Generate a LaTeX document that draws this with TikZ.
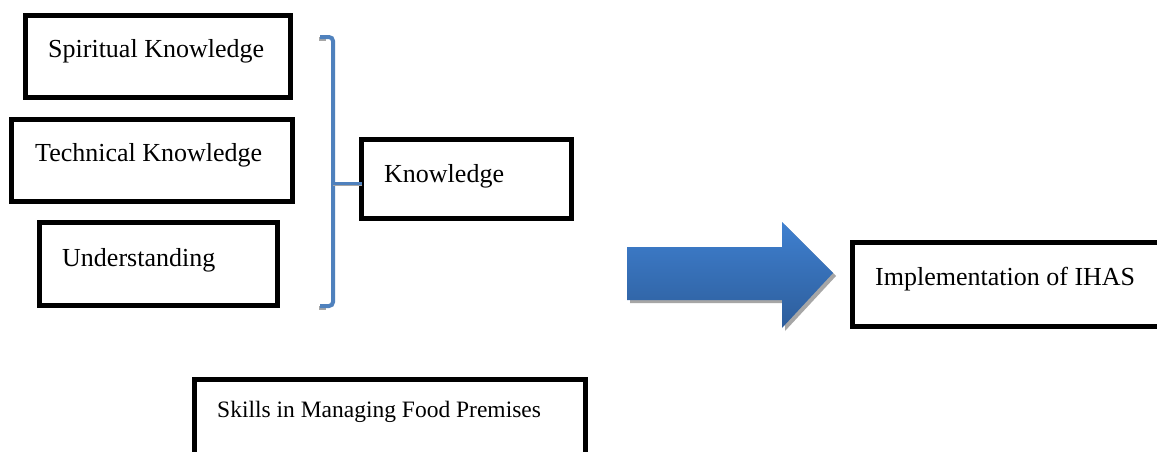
\documentclass[tikz,border=0pt]{standalone}
\usepackage{fontspec}
\setmainfont{Liberation Serif}
\usetikzlibrary{calc}
\definecolor{brk}{HTML}{4F81BD}
\definecolor{arTop}{HTML}{3F80D0}
\definecolor{arBot}{HTML}{2D5D9B}
\definecolor{shd}{HTML}{A6A6A6}
\tikzset{
  box/.style={draw=black, line width=5pt, fill=white},
  lbl/.style={anchor=base west, inner sep=0pt, font=\fontsize{26}{30}\selectfont},
  lblsm/.style={anchor=base west, inner sep=0pt, font=\fontsize{23.5}{28}\selectfont},
}
\begin{document}
\begin{tikzpicture}[x=1pt,y=-1pt]
\useasboundingbox (0,0) rectangle (1157,451);
\fill[white] (0,0) rectangle (1157,451);
\begin{scope}
\clip (0,0) rectangle (1157,451);
% boxes
\draw[box] (25.5,15.5) rectangle (290.5,97.5);
\coordinate (spir) at (25.5,15.5);
\draw[box] (11.5,119.5) rectangle (292.5,201.5);
\draw[box] (39.5,222.5) rectangle (277.5,305.5);
\draw[box] (361.5,139.5) rectangle (571.5,218.5);
\coordinate (knowW) at (361.5,183);
\draw[box] (852.5,242.5) rectangle (1175,326.5);
\draw[box] (194.5,379.5) rectangle (585.5,475);
% labels
\node[lbl] (t1) at (48,57) {Spiritual Knowledge};
\node[lbl] (t2) at (35,161) {Technical Knowledge};
\node[lbl] (t3) at (62,266) {Understanding};
\node[lbl] (t4) at (384,182) {Knowledge};
\node[lbl] (t5) at (875,285) {Implementation of IHAS};
\node[lblsm] (t6) at (217,417) {Skills in Managing Food Premises};
% bracket
\coordinate (bTop) at (320,37);
\coordinate (bBot) at (320,306);
\coordinate (bMid) at (333,183);
\draw[shd, line width=4pt] (319,39) -- (326,39);
\draw[shd, line width=4pt] (319,308) -- (326,308);
\draw[brk, line width=4pt, rounded corners=4pt] (bTop) -- (333,37) -- (333,306) -- (bBot);
\draw[shd, line width=2pt] (bMid) ++(0,1.5) -- ($(knowW)+(0,1.5)$);
\draw[brk, line width=3pt] (bMid) -- (knowW);
% arrow
\fill[shd] (630,250) -- (785,250) -- (785,225) -- (836,276) -- (785,331) -- (785,303) -- (630,303) -- cycle;
\shade[top color=arTop, bottom color=arBot] (627,247) -- (782,247) -- (782,222) -- (833,273) -- (782,328) -- (782,300) -- (627,300) -- cycle;
\end{scope}
\end{tikzpicture}
\end{document}
